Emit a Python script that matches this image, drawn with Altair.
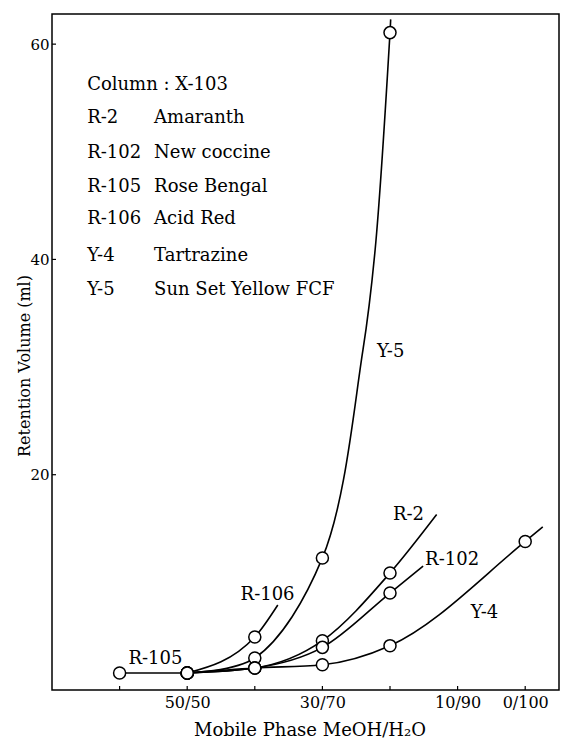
import altair as alt
import pandas as pd

# ---- data (MeOH % in the mobile phase, retention volume ml)
series = ["R-105", "R-106", "Y-5", "R-2", "R-102", "Y-4"]
r105_meoh = [60, 50]
r105_vol = [1.58, 1.58]
r106_meoh = [50, 40]
r106_vol = [1.58, 4.93]
y5_meoh = [50, 40, 30, 20]
y5_vol = [1.58, 2.97, 12.27, 61.07]
r2_meoh = [50, 40, 30, 20]
r2_vol = [1.58, 2.04, 4.58, 10.87]
r102_meoh = [50, 40, 30, 20]
r102_vol = [1.58, 2.04, 3.96, 9.01]
y4_meoh = [50, 40, 30, 20, 0]
y4_vol = [1.58, 2.04, 2.35, 4.12, 13.8]

tail_meoh = [None, 36.6, 19.9, 13.1, 15.1, -2.6]
tail_vol = [None, 7.9, 62.3, 16.3, 11.5, 15.15]

# extra points read along the drawn Y-5 curve between 30/70 and 20/80
y5_curve_meoh = [24.0, 22.2]
y5_curve_vol = [31.6, 40.9]

# axis ticks and labels
x_ticks = [60, 50, 40, 30, 20, 10, 0]
x_label_values = [50, 30, 10, 0]
x_label_texts = ["50/50", "30/70", "10/90", "0/100"]
y_ticks = [20, 40, 60]

# curve labels (data coordinates)
curve_label_text = ["Y-5", "R-2", "R-102", "R-106", "Y-4", "R-105"]
curve_label_meoh = [19.9, 17.26, 10.81, 38.11, 6.02, 54.7]
curve_label_vol = [31.37, 16.29, 12.11, 8.86, 7.18, 2.88]

# key block
key_header = "Column : X-103"
key_codes = ["R-2", "R-102", "R-105", "R-106", "Y-4", "Y-5"]
key_names = ["Amaranth", "New coccine", "Rose Bengal", "Acid Red", "Tartrazine", "Sun Set Yellow FCF"]
key_vol = [56.25, 53.16, 49.9, 46.75, 43.71, 40.3, 37.19]
key_meoh_code = 64.8
key_meoh_name = 54.9

# ---- tables
pts_by_series = {
    "R-105": (r105_meoh, r105_vol),
    "R-106": (r106_meoh, r106_vol),
    "Y-5": (y5_meoh, y5_vol),
    "R-2": (r2_meoh, r2_vol),
    "R-102": (r102_meoh, r102_vol),
    "Y-4": (y4_meoh, y4_vol),
}
line_rows, pt_rows = [], []
for i, s in enumerate(series):
    ms, vs = pts_by_series[s]
    for m, v in zip(ms, vs):
        line_rows.append({"s": s, "m": m, "v": v})
        pt_rows.append({"s": s, "m": m, "v": v})
    if tail_meoh[i] is not None:
        line_rows.append({"s": s, "m": tail_meoh[i], "v": tail_vol[i]})
for m, v in zip(y5_curve_meoh, y5_curve_vol):
    line_rows.append({"s": "Y-5", "m": m, "v": v})
lines_df = pd.DataFrame(line_rows)
pts_df = pd.DataFrame(pt_rows)

curve_lab_df = pd.DataFrame({"t": curve_label_text, "m": curve_label_meoh, "v": curve_label_vol})
key_rows = [{"t": key_header, "m": key_meoh_code, "v": key_vol[0]}]
for i, (c, n) in enumerate(zip(key_codes, key_names)):
    key_rows.append({"t": c, "m": key_meoh_code, "v": key_vol[i + 1]})
    key_rows.append({"t": n, "m": key_meoh_name, "v": key_vol[i + 1]})
key_df = pd.DataFrame(key_rows)
xtick_df = pd.DataFrame({"m": x_ticks})
ytick_df = pd.DataFrame({"v": y_ticks})

W, H = 507, 676
SERIF = "DejaVu Serif"

label_expr = " : ".join(
    f"datum.value == {v} ? '{t}'" for v, t in zip(x_label_values, x_label_texts)
) + " : ''"

xs = alt.Scale(domain=[-5, 70], reverse=True, nice=False, zero=False)
ys = alt.Scale(domain=[0, 62.8], nice=False, zero=False)

x_axis = alt.Axis(
    values=x_label_values, labelExpr=label_expr, ticks=False, domain=False, grid=False,
    labelFont=SERIF, labelFontSize=16, labelColor="black", labelPadding=4, labelFlush=False,
    title="Mobile Phase MeOH/H\u2082O", titleFont=SERIF, titleFontSize=18, titleFontWeight="normal",
    titleColor="black", titleX=257.5, titleY=40, titleAlign="center", titleBaseline="middle",
)
y_axis = alt.Axis(
    values=y_ticks, ticks=False, domain=False, grid=False,
    labelFont=SERIF, labelFontSize=15, labelColor="black", labelPadding=3,
    title="Retention Volume (ml)", titleFont=SERIF, titleFontSize=16, titleFontWeight="normal",
    titleColor="black", titleX=-28, titleY=351.5, titleAlign="center", titleBaseline="middle",
)
X = alt.X("m:Q", scale=xs, axis=x_axis)
Y = alt.Y("v:Q", scale=ys, axis=y_axis)

base_lines = alt.Chart(lines_df).encode(
    x=X, y=Y, detail="s:N", order=alt.Order("m:Q", sort="descending")
)
lines = base_lines.mark_line(
    interpolate="monotone", color="black", strokeWidth=1.6
).transform_filter(alt.datum.s != "Y-5")
y5_line = base_lines.mark_line(
    interpolate="catmull-rom", color="black", strokeWidth=1.6
).transform_filter(alt.datum.s == "Y-5")

points = alt.Chart(pts_df).mark_point(
    shape="circle", size=145, filled=True, fill="white", stroke="black", strokeWidth=1.5, opacity=1
).encode(x=X, y=Y)

curve_labels = alt.Chart(curve_lab_df).mark_text(
    font=SERIF, fontSize=18, color="black", align="center", baseline="middle"
).encode(x=X, y=Y, text="t:N")

key = alt.Chart(key_df).mark_text(
    font=SERIF, fontSize=18, color="black", align="left", baseline="middle"
).encode(x=X, y=Y, text="t:N")

xticks = alt.Chart(xtick_df).mark_rule(color="black", strokeWidth=1.2).encode(
    x=X, y=alt.value(H), y2=alt.value(H - 4)
)
yticks = alt.Chart(ytick_df).mark_rule(color="black", strokeWidth=1.2).encode(
    y=Y, x=alt.value(0), x2=alt.value(4)
)

chart = alt.layer(xticks, yticks, lines, y5_line, points, curve_labels, key).properties(
    width=W, height=H, autosize="none",
    padding={"left": 52, "top": 14, "right": 2, "bottom": 54},
    background="white",
).configure_view(stroke="black", strokeWidth=1.5)

chart.save("out.html", embed_options={"renderer": "svg", "actions": False})
